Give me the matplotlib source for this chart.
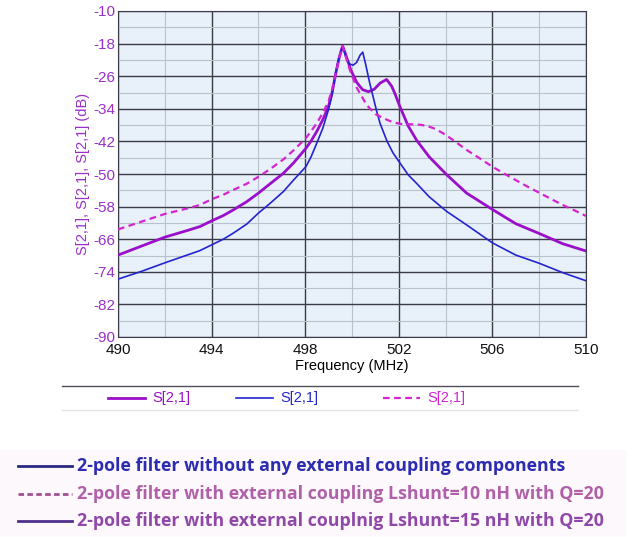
import matplotlib
matplotlib.use("Agg")
import matplotlib.pyplot as plt
from matplotlib.lines import Line2D
from matplotlib.patches import Rectangle

plt.rcParams["font.family"] = ["Liberation Sans", "DejaVu Sans"]
plt.rcParams["axes.unicode_minus"] = False

# 2-pole filter, no external coupling (blue)
freq_plain = [490, 491, 492, 493, 493.5, 494, 494.5, 494.93, 495.5, 496, 496.5,
              497.07, 497.5, 498.03, 498.25, 498.49, 498.75, 498.99, 499.15,
              499.27, 499.4, 499.5, 499.6, 499.75, 499.9, 500.05, 500.2, 500.35,
              500.46, 500.6, 500.75, 500.9, 501.05, 501.2, 501.5, 501.75, 502.05,
              502.4, 502.76, 503.3, 504.05, 504.9, 506, 507, 508, 509, 510]
s21_plain = [-75.8, -73.9, -71.8, -69.8, -68.8, -67.4, -66.0, -64.5, -62.3, -59.6,
             -57.2, -54.3, -51.5, -48.2, -45.8, -42.5, -38.8, -34.3, -30.5, -26.0,
             -22.5, -20.3, -18.6, -21.5, -23.0, -23.3, -22.6, -20.8, -20.1, -23.5,
             -27.5, -31.0, -34.5, -37.6, -42.0, -44.8, -47.3, -50.2, -52.3, -55.6,
             -59.2, -62.5, -66.9, -69.9, -71.9, -74.2, -76.2]

# external coupling Lshunt = 15 nH, Q = 20 (solid purple)
freq_l15 = [490, 491, 492, 493, 493.5, 494, 494.5, 494.93, 495.5, 496, 496.5,
            497.07, 497.5, 498.03, 498.25, 498.49, 498.75, 498.99, 499.15, 499.3,
            499.45, 499.6, 499.75, 499.95, 500.2, 500.45, 500.7, 500.95, 501.2,
            501.48, 501.7, 501.85, 502.05, 502.4, 502.76, 503.3, 504.05, 504.9,
            506, 507, 508, 509, 510]
s21_l15 = [-69.9, -67.7, -65.5, -63.8, -62.9, -61.5, -60.2, -58.8, -56.8, -54.7,
           -52.4, -49.8, -47.3, -43.7, -41.9, -39.6, -36.7, -33.5, -30.0, -25.5,
           -21.5, -18.6, -21.0, -24.5, -27.5, -29.3, -29.8, -29.2, -27.7, -26.8,
           -28.5, -30.5, -33.5, -38.2, -41.7, -45.8, -50.2, -54.7, -58.7, -62.2,
           -64.6, -67.1, -68.9]

# external coupling Lshunt = 10 nH, Q = 20 (dashed magenta)
freq_l10 = [490, 491, 492, 493, 493.5, 494, 494.5, 494.93, 495.5, 496, 496.5,
            497.07, 497.5, 498.03, 498.25, 498.49, 498.75, 498.99, 499.15, 499.3,
            499.45, 499.6, 499.75, 499.91, 500.2, 500.63, 501.0, 501.34, 501.7,
            502.05, 502.5, 502.9, 503.2, 503.5, 503.8, 504.05, 504.4, 504.9,
            505.47, 506, 506.5, 507, 507.5, 508, 508.5, 509, 509.5, 510]
s21_l10 = [-63.6, -61.7, -59.8, -58.4, -57.6, -56.2, -55.1, -53.9, -52.4, -50.7,
           -48.8, -46.4, -44.2, -41.2, -39.5, -37.6, -35.0, -32.3, -29.2, -25.5,
           -21.5, -18.6, -21.5, -24.5, -28.8, -33.1, -35.3, -36.3, -37.2, -37.7,
           -37.8, -37.9, -38.2, -38.8, -39.7, -40.6, -42.0, -44.1, -46.2, -48.2,
           -49.9, -51.5, -53.1, -54.6, -56.1, -57.6, -58.9, -60.3]

x_ticks = [490, 494, 498, 502, 506, 510]
y_ticks = [-10, -18, -26, -34, -42, -50, -58, -66, -74, -82, -90]

legend_labels = ["2-pole filter without any external coupling components",
                 "2-pole filter with external coupling Lshunt=10 nH with Q=20",
                 "2-pole filter with external couplnig Lshunt=15 nH with Q=20"]

purple = "#9a10c8"
blue = "#2424d0"
magenta = "#d424d0"
label_purple = "#9a30c8"

W, H = 641, 537
fig = plt.figure(figsize=(W / 100, H / 100), dpi=100)
ax = fig.add_axes([118 / W, 1 - 337 / H, (586 - 118) / W, (337 - 11) / H])
ax.set_facecolor("#e8f0fa")

ax.plot(freq_l15, s21_l15, color=purple, lw=2.0, zorder=4)
ax.plot(freq_plain, s21_plain, color=blue, lw=1.2, zorder=4)
ax.plot(freq_l10, s21_l10, color=magenta, lw=1.6, ls=(0, (3, 2)), zorder=4)

ax.set_xlim(490, 510)
ax.set_ylim(-90, -10)
ax.set_xticks(x_ticks)
ax.set_yticks(y_ticks)
ax.set_xticks(range(490, 511, 2), minor=True)
ax.set_yticks(range(-90, -9, 4), minor=True)
ax.grid(which="major", color="#3c3c48", lw=1.0)
ax.grid(which="minor", color="#b8c2cc", lw=0.8)
ax.set_axisbelow(True)
ax.tick_params(which="both", length=0)
ax.tick_params(axis="x", labelsize=11, pad=4, labelcolor="#111111")
ax.tick_params(axis="y", labelsize=11, pad=2, labelcolor=label_purple)
for s in ax.spines.values():
    s.set_color("#3c3c48")
ax.set_xlabel("Frequency (MHz)", fontsize=10.5, labelpad=2)
ax.set_ylabel("S[2,1], S[2,1], S[2,1] (dB)", fontsize=10.5, color=label_purple, labelpad=2)

# legend row under the chart
tf = fig.transFigure
fig.add_artist(Line2D([62 / W, 578 / W], [1 - 386 / H] * 2, color="#505058", lw=1.0, transform=tf))
fig.add_artist(Line2D([62 / W, 578 / W], [1 - 410 / H] * 2, color="#e4e4e8", lw=1.0, transform=tf))
row = 1 - 398 / H
entries = [(108, purple, "-", 2.0), (236, blue, "-", 1.2), (383, magenta, (0, (3, 2)), 1.6)]
for (x0, c, ls, lw) in entries:
    fig.add_artist(Line2D([x0 / W, (x0 + 37) / W], [row, row], color=c, ls=ls, lw=lw, transform=tf))
    fig.text((x0 + 44) / W, row, "S[2,1]", color=c, fontsize=10.5, va="center", ha="left")

# pasted legend picture at the bottom
fig.add_artist(Rectangle((0, 1 - 535 / H), 625 / W, 85 / H, color="#fdf8fc", transform=tf, zorder=0))
rows_y = [466, 494, 521]
line_cols = ["#2a2a80", "#a05090", "#50308a"]
text_cols = ["#2c2cb0", "#b060a8", "#9048a8"]
line_ls = ["-", (0, (2, 1.2)), "-"]
for y, lab, lc, tc, ls in zip(rows_y, legend_labels, line_cols, text_cols, line_ls):
    yy = 1 - y / H
    fig.add_artist(Line2D([18 / W, 72 / W], [yy, yy], color=lc, ls=ls, lw=2.0, transform=tf))
    fig.text(77 / W, yy, lab, color=tc, fontsize=12.8, fontweight="bold",
             family=["Open Sans", "DejaVu Sans"], va="center", ha="left")

fig.savefig("out.png", dpi=100)
